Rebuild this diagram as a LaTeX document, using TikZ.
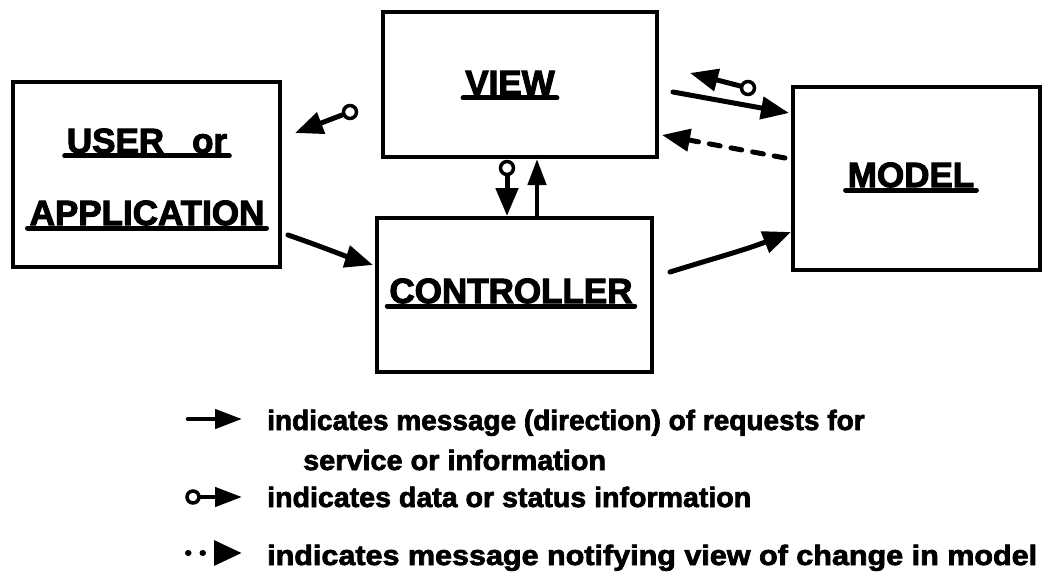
\documentclass[tikz,border=0pt]{standalone}
\usepackage{fontspec}
\setmainfont{Liberation Sans}
\newfontfamily\boxfont{Liberation Sans Bold}[FakeBold=3]
\newfontfamily\keyfont{Liberation Sans Bold}[FakeBold=2.5]
\usetikzlibrary{arrows.meta}

\tikzset{
  frame/.style={draw, line width=4pt, inner sep=0pt},
  title/.style={font=\boxfont\fontsize{35}{40}\selectfont, anchor=base, inner ysep=0pt, inner xsep=2pt},
  uline/.style={line width=5pt, line cap=round},
  keytext/.style={font=\keyfont\fontsize{28}{32}\selectfont, anchor=base west, inner sep=0pt},
  req/.style={line width=5pt, line cap=round, -{Triangle[length=28pt,width=22pt]}},
  reqsmall/.style={line width=4.5pt, line cap=round, -{Triangle[length=26pt,width=18pt]}},
  note/.style={req, dash pattern=on 11pt off 11pt},
  ring/.style={circle, draw, line width=3.5pt, fill=white, minimum size=13pt, inner sep=0pt},
  keyarrow/.style={line width=4.5pt, line cap=round, -{Triangle[length=27pt,width=19pt]}},
}

\begin{document}
\begin{tikzpicture}[x=1pt, y=-1pt]
\useasboundingbox (0,0) rectangle (1044,575);

% the four components
\node[frame, minimum width=267pt, minimum height=185pt] (user)  at (146.5,174.5) {};
\node[frame, minimum width=274pt, minimum height=145pt] (view)  at (520,84.5)   {};
\node[frame, minimum width=275pt, minimum height=154pt] (ctrl)  at (514.5,295)  {};
\node[frame, minimum width=247pt, minimum height=183pt] (model) at (916.5,178.5) {};

% underlined titles
\node[title] (tuser) at (147,153) {USER\hspace{28pt}or};
\node[title] (tapp)  at (147,225) {APPLICATION};
\node[title] (tview) at (510,95)  {VIEW};
\node[title] (tctrl) at (511,303) {CONTROLLER};
\node[title] (tmodel) at (911,187) {MODEL};
\foreach \t in {tuser,tapp,tview,tctrl,tmodel}
  \draw[uline] ([yshift=-3pt]\t.base west) -- ([yshift=-3pt]\t.base east);

% free ends of the connectors
\coordinate (vuTip) at (295,133);
\coordinate (mvTip) at (690,73);
\coordinate (vmTail) at (673,92);
\coordinate (vmTip) at (789,113);
\coordinate (nTail) at (785,158);
\coordinate (nTip) at (662,135);
\coordinate (ucTail) at (288,235);
\coordinate (ucTip) at (373,265);
\coordinate (cmTail) at (670,272);
\coordinate (cmTip) at (791,232);

% view -> user (data)
\node[ring] (r1) at (350,112) {};
\draw[req] (r1) -- (vuTip);

% view <-> controller
\node[ring] (r2) at (507,168) {};
\draw[req] (r2) -- (r2 |- ctrl.north);
\draw[reqsmall] ([xshift=22.5pt]ctrl.north) -- ([xshift=17pt]view.south);

% model -> view (data), view -> model (request), model -> view (notify)
\node[ring] (r4) at (748,88) {};
\draw[req] (r4) -- (mvTip);
\draw[req] (vmTail) -- (vmTip);
\draw[note] (nTail) -- (nTip);

% user -> controller, controller -> model
\draw[req] (ucTail) .. controls (320,246) and (345,256) .. (ucTip);
\draw[req] (cmTail) .. controls (715,258) and (745,250) .. (cmTip);

% key
\coordinate (k1a) at (188,419);
\coordinate (k1b) at (242,419);
\draw[keyarrow] (k1a) -- (k1b);
\node[keytext] (key1) at (267,430) {indicates message (direction) of requests for};
\node[keytext] (key1b) at (303,470) {\scalebox{1.03}[1]{service or information}};

\node[ring, minimum size=12pt] (k2a) at (193,497) {};
\coordinate (k2b) at (242,497);
\draw[keyarrow] (k2a) -- (k2b);
\node[keytext] (key2) at (267,507) {\scalebox{1.02}[1]{indicates data or status information}};

\coordinate (k3a) at (188,553);
\coordinate (k3b) at (242,553);
\draw[line width=6pt, line cap=round, dash pattern=on 0.5pt off 14pt, -{Triangle[length=28pt,width=24pt]}] (k3a) -- (k3b);
\node[keytext] (key3) at (267,565) {\scalebox{1.09}[1]{indicates message notifying view of change in model}};
\end{tikzpicture}
\end{document}
